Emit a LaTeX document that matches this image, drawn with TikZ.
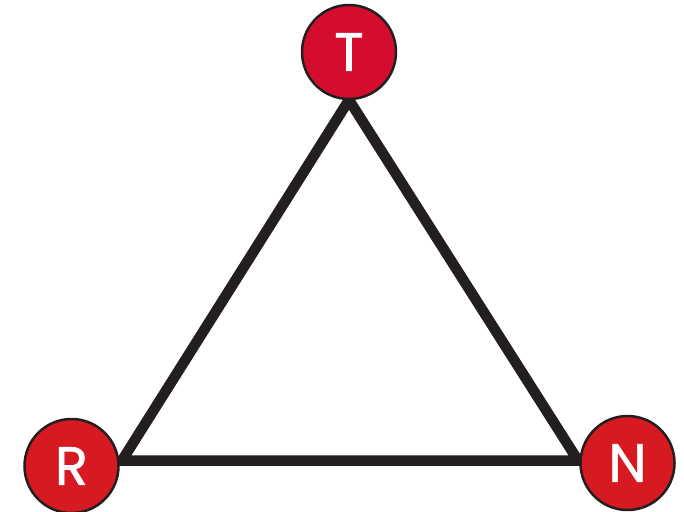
\documentclass[tikz,border=0pt]{standalone}
\usepackage{fontspec}
\setmainfont{Poppins}[FakeBold=1.2]
\definecolor{redT}{HTML}{D40D2F}
\definecolor{redRN}{HTML}{D71A22}
\definecolor{ink}{HTML}{231F20}
\begin{document}
\begin{tikzpicture}[x=1pt,y=-1pt,
  vertex/.style={circle,draw=ink,line width=2.5pt,minimum size=94pt,inner sep=0pt,
    text=white,font=\fontsize{54}{54}\selectfont},
  edge/.style={draw=ink,line width=10.5pt,line join=miter}]
\useasboundingbox (0,0) rectangle (684,511);
\coordinate (a) at (349,100);
\coordinate (b) at (122,460.5);
\coordinate (c) at (578,460.5);
\draw[edge] (a) -- (b) -- (c) -- cycle;
\node[vertex,fill=redT] (T) at (349,52) {T};
\node[vertex,fill=redRN] (R) at (71.5,466) {R};
\node[vertex,fill=redRN] (N) at (627.5,463) {N};
\end{tikzpicture}
\end{document}
